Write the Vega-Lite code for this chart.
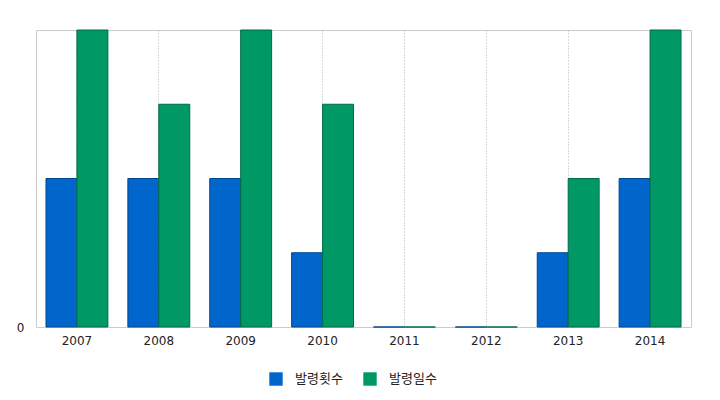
{
  "$schema": "https://vega.github.io/schema/vega-lite/v6.json",
  "width": 655,
  "height": 297,
  "autosize": "none",
  "padding": {"left": 36, "top": 30, "right": 29, "bottom": 73},
  "background": "white",
  "config": {
    "view": {"stroke": "#cccccc", "strokeWidth": 1},
    "font": "Noto Sans CJK KR"
  },
  "data": {
    "values": [
      {"year": "2007", "series": "발령횟수", "value": 2},
      {"year": "2007", "series": "발령일수", "value": 4},
      {"year": "2008", "series": "발령횟수", "value": 2},
      {"year": "2008", "series": "발령일수", "value": 3},
      {"year": "2009", "series": "발령횟수", "value": 2},
      {"year": "2009", "series": "발령일수", "value": 4},
      {"year": "2010", "series": "발령횟수", "value": 1},
      {"year": "2010", "series": "발령일수", "value": 3},
      {"year": "2011", "series": "발령횟수", "value": 0},
      {"year": "2011", "series": "발령일수", "value": 0},
      {"year": "2012", "series": "발령횟수", "value": 0},
      {"year": "2012", "series": "발령일수", "value": 0},
      {"year": "2013", "series": "발령횟수", "value": 1},
      {"year": "2013", "series": "발령일수", "value": 2},
      {"year": "2014", "series": "발령횟수", "value": 2},
      {"year": "2014", "series": "발령일수", "value": 4}
    ]
  },
  "mark": {"type": "bar", "strokeWidth": 1},
  "encoding": {
    "x": {
      "field": "year",
      "type": "nominal",
      "scale": {"paddingInner": 0.244, "paddingOuter": 0.122},
      "axis": {
        "title": null,
        "labelAngle": 0,
        "ticks": false,
        "domain": false,
        "grid": true,
        "bandPosition": 0.5,
        "gridColor": "#b0b0b0",
        "gridDash": [1, 2],
        "gridWidth": 1,
        "labelFontSize": 12,
        "labelColor": "#222222",
        "labelPadding": 8,
        "labelFont": "DejaVu Sans"
      }
    },
    "xOffset": {"field": "series", "type": "nominal", "sort": ["발령횟수", "발령일수"], "scale": {"paddingInner": 0, "paddingOuter": 0}},
    "y": {
      "field": "value",
      "type": "quantitative",
      "scale": {"domain": [0, 4], "nice": false},
      "axis": {
        "title": null,
        "values": [0],
        "grid": false,
        "ticks": false,
        "domain": false,
        "labelFontSize": 12,
        "labelColor": "#222222",
        "labelPadding": 12,
        "labelFont": "DejaVu Sans"
      }
    },
    "color": {
      "field": "series",
      "type": "nominal",
      "sort": ["발령횟수", "발령일수"],
      "scale": {"domain": ["발령횟수", "발령일수"], "range": ["#0066cc", "#009966"]},
      "legend": {
        "title": null,
        "orient": "none",
        "direction": "horizontal",
        "legendX": 233,
        "legendY": 342,
        "symbolType": "square",
        "symbolSize": 180,
        "symbolStrokeWidth": 0,
        "labelFontSize": 13,
        "labelColor": "#222222",
        "columnPadding": 20,
        "labelOffset": 12
      }
    },
    "stroke": {
      "field": "series",
      "type": "nominal",
      "scale": {"domain": ["발령횟수", "발령일수"], "range": ["#00478f", "#006b47"]},
      "legend": null
    }
  }
}
